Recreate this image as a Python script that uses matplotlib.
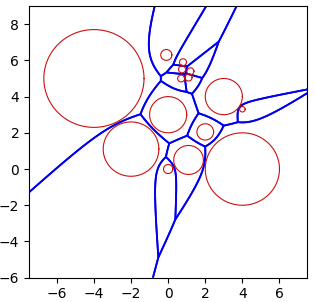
import numpy as np
import matplotlib
matplotlib.use("Agg")
import matplotlib.pyplot as plt

# circle sites: centre x, centre y, radius
cx = [-4.0, -2.0, 4.0, 3.0, 0.0, 2.0, 1.1, 0.0, -0.1, 4.0, 0.8, 0.75, 1.2, 0.7, 1.1]
cy = [5.0, 1.1, 0.0, 4.0, 3.0, 2.05, 0.5, 0.0, 6.3, 3.3, 5.9, 5.5, 5.4, 5.0, 5.05]
rad = [2.7, 1.5, 2.0, 1.0, 1.0, 0.45, 0.8, 0.25, 0.3, 0.15, 0.19, 0.19, 0.19, 0.19, 0.19]

xlim = (-7.5, 7.5)
ylim = (-6, 9)
xticks = [-6, -4, -2, 0, 2, 4, 6]
yticks = [-6, -4, -2, 0, 2, 4, 6, 8]

fig = plt.figure(figsize=(3.15, 3.02), dpi=100)
ax = fig.add_axes([0.092, 0.0805, 0.8836, 0.8995])

gx = np.linspace(xlim[0], xlim[1], 1400)
gy = np.linspace(ylim[0], ylim[1], 1400)
X, Y = np.meshgrid(gx, gy)
cxa, cya, ra = np.array(cx), np.array(cy), np.array(rad)
D = np.sqrt((X[None] - cxa[:, None, None]) ** 2 + (Y[None] - cya[:, None, None]) ** 2) - ra[:, None, None]
order = np.argsort(D, axis=0)
srt = np.take_along_axis(D, order[:2], axis=0)
d1, d2 = srt[0], srt[1]
lab = order[0]
for i in range(len(cx)):
    other = np.where(lab == i, d2, d1)
    g = D[i] - other
    if g.min() < 0 < g.max():
        ax.contour(X, Y, g, levels=[0], colors='#0000ee', linewidths=1.3)

t = np.linspace(0, 2 * np.pi, 300)
for x0, y0, r0 in zip(cx, cy, rad):
    ax.plot(x0 + r0 * np.cos(t), y0 + r0 * np.sin(t), color='#cc1111', lw=0.8)

ax.set_xlim(*xlim)
ax.set_ylim(*ylim)
ax.set_xticks(xticks)
ax.set_yticks(yticks)
ax.tick_params(labelsize=10)
fig.savefig("out.png", dpi=100)
